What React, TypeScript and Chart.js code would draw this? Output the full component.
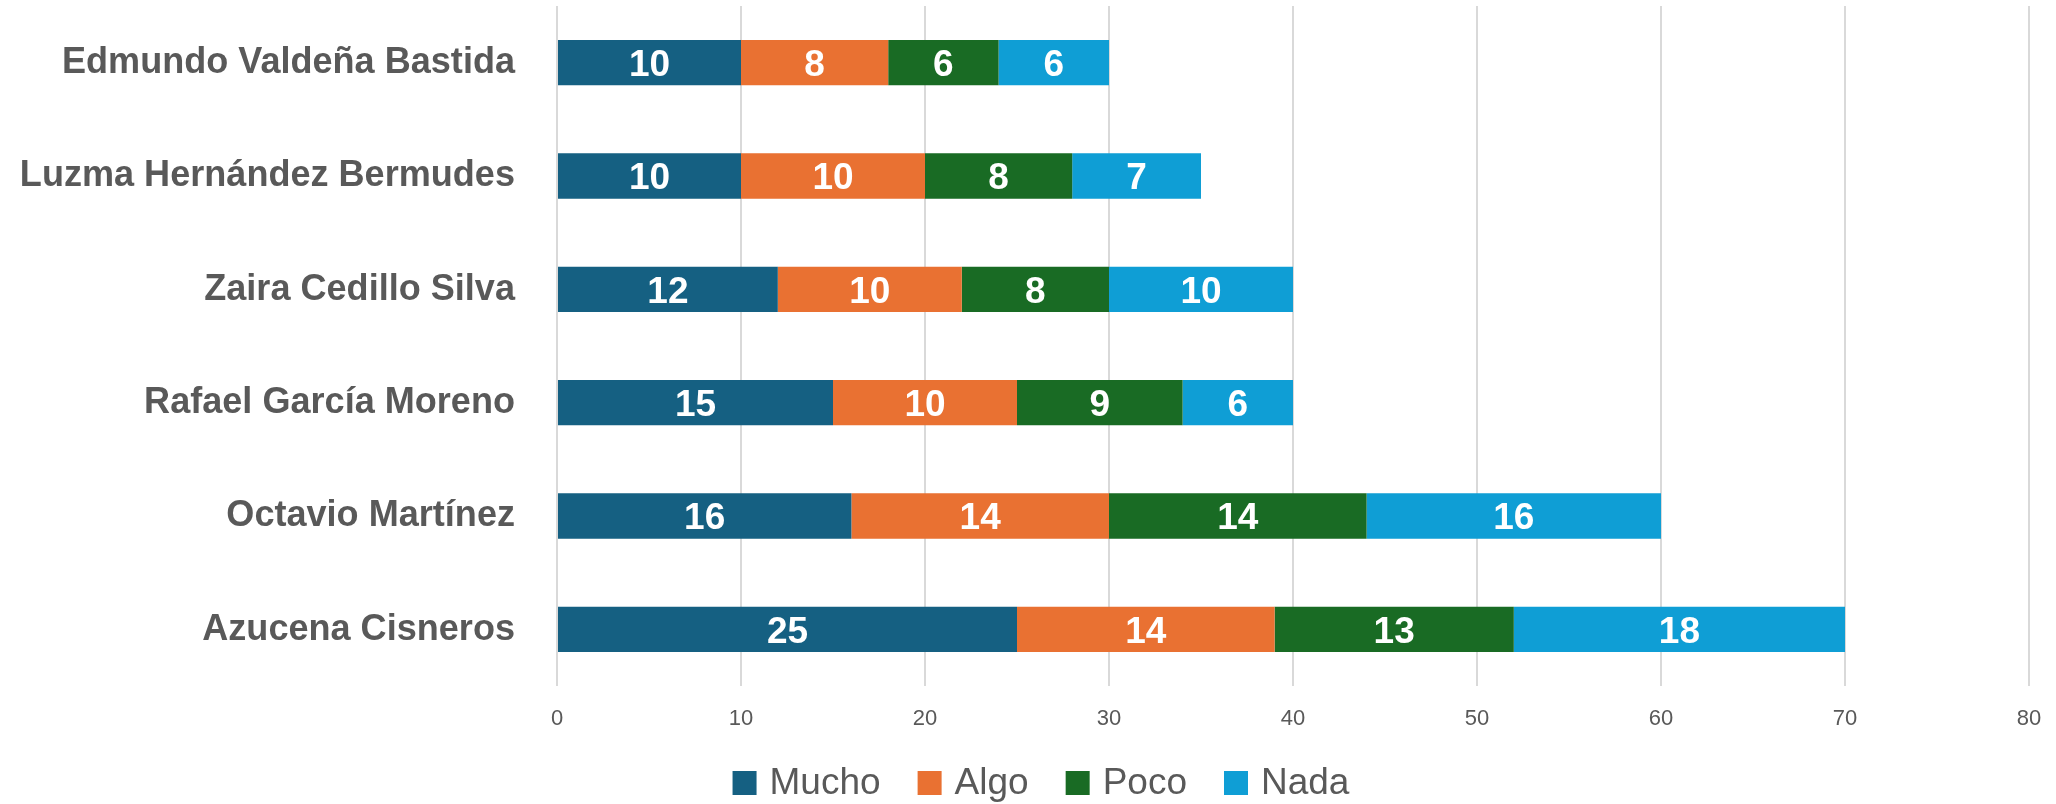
import React, { useEffect, useRef } from "react";
import { Chart, registerables } from "chart.js";

Chart.register(...registerables);

const categories = [
  "Edmundo Valdeña Bastida",
  "Luzma Hernández Bermudes",
  "Zaira Cedillo Silva",
  "Rafael García Moreno",
  "Octavio Martínez",
  "Azucena Cisneros",
];
const mucho = [10, 10, 12, 15, 16, 25];
const algo = [8, 10, 10, 10, 14, 14];
const poco = [6, 8, 8, 9, 14, 13];
const nada = [6, 7, 10, 6, 16, 18];
const seriesNames = ["Mucho", "Algo", "Poco", "Nada"];
const seriesColors = ["#156082", "#E97132", "#196B24", "#0F9ED5"];

const FONT = "'Liberation Sans', Arial, sans-serif";
const TEXT_GRAY = "#595959";

const labelPlugin = {
  id: "customText",
  afterDatasetsDraw(chart: any) {
    const ctx = chart.ctx;
    const area = chart.chartArea;
    ctx.save();
    // values inside bars
    ctx.fillStyle = "#FFFFFF";
    ctx.font = `bold 37px ${FONT}`;
    ctx.textAlign = "center";
    ctx.textBaseline = "middle";
    chart.data.datasets.forEach((ds: any, di: number) => {
      const meta = chart.getDatasetMeta(di);
      meta.data.forEach((bar: any, i: number) => {
        const cx = (bar.x + bar.base) / 2;
        ctx.fillText(String(ds.data[i]), cx, bar.y + 3);
      });
    });
    // category labels
    const yScale = chart.scales.y;
    ctx.fillStyle = TEXT_GRAY;
    ctx.font = `bold 37px ${FONT}`;
    ctx.textAlign = "right";
    chart.data.labels.forEach((lab: string, i: number) => {
      const y = yScale.getPixelForValue(i);
      ctx.save();
      ctx.translate(area.left - 42, y);
      ctx.scale(0.975, 1);
      ctx.fillText(lab, 0, 0);
      ctx.restore();
    });
    // legend
    ctx.font = `37px ${FONT}`;
    ctx.textAlign = "left";
    const box = 24;
    const gapText = 13;
    const gapItem = 37;
    const widths = seriesNames.map((n) => box + gapText + ctx.measureText(n).width);
    const total = widths.reduce((a, b) => a + b, 0) + gapItem * (widths.length - 1);
    let x = 1041 - total / 2;
    const ly = 783;
    seriesNames.forEach((n, i) => {
      ctx.fillStyle = seriesColors[i];
      ctx.fillRect(x, ly - box / 2, box, box);
      ctx.fillStyle = TEXT_GRAY;
      ctx.fillText(n, x + box + gapText, ly + 1);
      x += widths[i] + gapItem;
    });
    ctx.restore();
  },
};

export default function App() {
  const ref = useRef<HTMLCanvasElement>(null);
  useEffect(() => {
    if (!ref.current) return;
    const data = [mucho, algo, poco, nada];
    const chart = new Chart(ref.current, {
      type: "bar",
      data: {
        labels: categories,
        datasets: seriesNames.map((n, i) => ({
          label: n,
          data: data[i],
          backgroundColor: seriesColors[i],
          borderWidth: 0,
          barPercentage: 0.4,
          categoryPercentage: 1,
        })),
      },
      options: {
        indexAxis: "y",
        animation: false,
        responsive: false,
        maintainAspectRatio: false,
        layout: { padding: { left: 0, right: 27, top: 6, bottom: 68 } },
        plugins: {
          tooltip: { enabled: false },
          legend: { display: false },
        },
        scales: {
          x: {
            stacked: true,
            min: 0,
            max: 80,
            ticks: {
              stepSize: 10,
              color: TEXT_GRAY,
              font: { family: FONT, size: 22 },
              padding: 0,
            },
            grid: {
              color: "#D9D9D9",
              lineWidth: 2,
              drawTicks: true,
              tickLength: 20,
              tickColor: "rgba(0,0,0,0)",
            },
            border: { display: false },
            afterFit: (s: any) => {
              s.height = 50;
            },
          },
          y: {
            stacked: true,
            ticks: { display: false },
            grid: { display: false, drawTicks: false },
            border: { display: false },
            afterFit: (s: any) => {
              s.width = 557;
            },
          },
        },
      },
      plugins: [labelPlugin],
    });
    return () => chart.destroy();
  }, []);
  return (
    <div style={{ position: "fixed", left: 0, top: 0, width: 2056, height: 804, background: "#fff" }}>
      <canvas ref={ref} width={2056} height={804} style={{ width: 2056, height: 804 }} />
    </div>
  );
}
